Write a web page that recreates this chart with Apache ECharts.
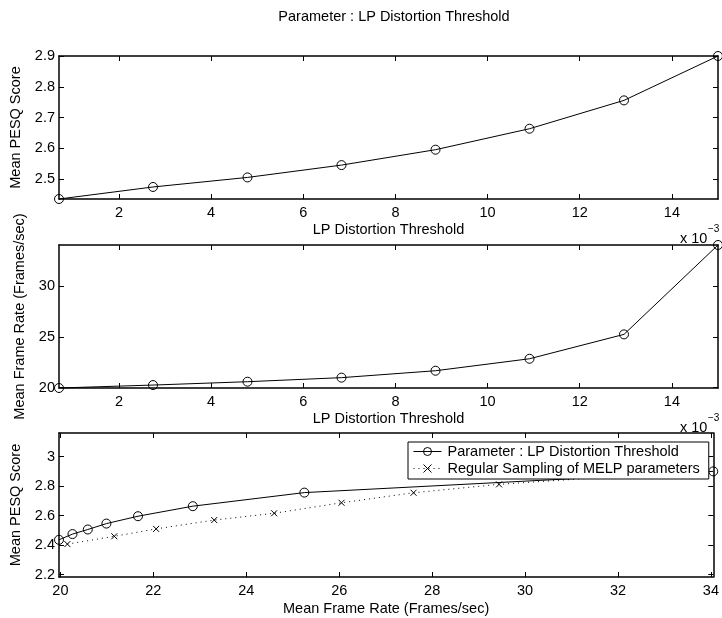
<!DOCTYPE html>
<html>
<head>
<meta charset="utf-8">
<script src="https://cdn.jsdelivr.net/npm/echarts@6/dist/echarts.min.js"></script>
<style>
  html, body { margin: 0; padding: 0; background: #fff; }
  #chart { width: 722px; height: 618px; }
</style>
</head>
<body>
<div id="chart"></div>
<script>
// LP distortion threshold (units of 1e-3)
const thresholds = [0.7, 2.74, 4.79, 6.83, 8.87, 10.91, 12.96, 15.0];
// Mean PESQ score for each threshold
const pesqScores = [2.436, 2.475, 2.506, 2.546, 2.596, 2.664, 2.756, 2.9];
// Mean frame rate (frames/sec) for each threshold
const frameRates = [19.97, 20.26, 20.59, 20.99, 21.67, 22.85, 25.25, 34.05];
// Regular sampling of MELP parameters: frame rate and PESQ
const regularRates = [20.15, 21.16, 22.06, 23.31, 24.6, 26.05, 27.6, 29.44, 32.4];
const regularScores = [2.407, 2.46, 2.51, 2.57, 2.616, 2.687, 2.755, 2.812, 2.875];

// tick positions
const thresholdTicks = [2, 4, 6, 8, 10, 12, 14];
const pesqTicksTop = [2.5, 2.6, 2.7, 2.8, 2.9];
const rateTicks = [20, 25, 30];
const rateTicksBottom = [20, 22, 24, 26, 28, 30, 32, 34];
const pesqTicksBottom = [2.2, 2.4, 2.6, 2.8, 3.0];

const FONT = '"Liberation Sans", Arial, Helvetica, sans-serif';
const FS = 14.5;
const FRAME_W = 1.5;

const pair = (xs, ys) => xs.map((x, i) => [x, ys[i]]);
const minOf = a => Math.min.apply(null, a);
const maxOf = a => Math.max.apply(null, a);

const grids = [
  { left: 59, right: 4, top: 56, height: 143 },
  { left: 59, right: 4, top: 245, height: 143 },
  { left: 59, right: 4, top: 433, height: 144 }
];

function xAxes(gi, min, max, ticks, name, gap) {
  const base = {
    type: 'value', gridIndex: gi, min: min, max: max,
    splitLine: { show: false },
    axisLine: { show: true, onZero: false, lineStyle: { color: '#000', width: FRAME_W } },
    axisTick: { show: true, inside: true, length: 5, customValues: ticks, lineStyle: { color: '#000' } }
  };
  return [
    Object.assign({}, base, {
      position: 'bottom',
      name: name, nameLocation: 'middle', nameGap: gap,
      nameTextStyle: { color: '#000', fontFamily: FONT, fontSize: FS },
      axisLabel: { show: true, customValues: ticks, margin: 6, color: '#000', fontFamily: FONT, fontSize: FS }
    }),
    Object.assign({}, base, { position: 'top', axisLabel: { show: false } })
  ];
}

function yAxes(gi, min, max, ticks, name) {
  const base = {
    type: 'value', gridIndex: gi, min: min, max: max,
    splitLine: { show: false },
    axisLine: { show: true, onZero: false, lineStyle: { color: '#000', width: FRAME_W } },
    axisTick: { show: true, inside: true, length: 5, customValues: ticks, lineStyle: { color: '#000' } }
  };
  return [
    Object.assign({}, base, {
      position: 'left',
      name: name, nameLocation: 'middle', nameGap: 28,
      nameTextStyle: { color: '#000', fontFamily: FONT, fontSize: FS },
      axisLabel: { show: true, customValues: ticks, margin: 4, color: '#000', fontFamily: FONT, fontSize: FS }
    }),
    Object.assign({}, base, { position: 'right', axisLabel: { show: false } })
  ];
}

const circle = {
  symbol: 'circle', symbolSize: 9,
  itemStyle: { color: 'rgba(0,0,0,0)', borderColor: '#000', borderWidth: 1 }
};
const cross = {
  symbol: 'path://M0,0L10,10M10,0L0,10', symbolSize: 6,
  itemStyle: { color: '#000', borderColor: '#000', borderWidth: 1 }
};

const xAxis = [].concat(
  xAxes(0, minOf(thresholds), maxOf(thresholds), thresholdTicks, 'LP Distortion Threshold', 23),
  xAxes(1, minOf(thresholds), maxOf(thresholds), thresholdTicks, 'LP Distortion Threshold', 23),
  xAxes(2, minOf(frameRates), maxOf(frameRates), rateTicksBottom, 'Mean Frame Rate (Frames/sec)', 24)
);
const yAxis = [].concat(
  yAxes(0, minOf(pesqScores), maxOf(pesqScores), pesqTicksTop, 'Mean PESQ Score'),
  yAxes(1, minOf(frameRates), maxOf(frameRates), rateTicks, 'Mean Frame Rate (Frames/sec)'),
  yAxes(2, 2.184, 3.16, pesqTicksBottom, 'Mean PESQ Score')
);

const lineBase = { type: 'line', clip: false, silent: true, animation: false };

const series = [
  Object.assign({}, lineBase, circle, {
    name: 'pesq-vs-threshold', xAxisIndex: 0, yAxisIndex: 0,
    data: pair(thresholds, pesqScores),
    lineStyle: { color: '#000', width: 1 }
  }),
  Object.assign({}, lineBase, circle, {
    name: 'rate-vs-threshold', xAxisIndex: 2, yAxisIndex: 2,
    data: pair(thresholds, frameRates),
    lineStyle: { color: '#000', width: 1 }
  }),
  Object.assign({}, lineBase, circle, {
    name: 'Parameter : LP Distortion Threshold', xAxisIndex: 4, yAxisIndex: 4,
    data: pair(frameRates, pesqScores),
    lineStyle: { color: '#000', width: 1 }
  }),
  Object.assign({}, lineBase, cross, {
    name: 'Regular Sampling of MELP parameters', xAxisIndex: 4, yAxisIndex: 4,
    data: pair(regularRates, regularScores),
    lineStyle: { color: '#000', width: 1, type: [1, 4] }
  })
];

const expText = (x, y) => ([
  { type: 'text', left: x, top: y, style: { text: 'x 10', fill: '#000', font: FS + 'px ' + FONT } },
  { type: 'text', left: x + 28, top: y - 7, style: { text: '\u22123', fill: '#000', font: '10px ' + FONT } }
]);

const option = {
  backgroundColor: '#fff',
  animation: false,
  title: {
    text: 'Parameter : LP Distortion Threshold',
    left: 389, top: 4, textAlign: 'center',
    textStyle: { color: '#000', fontFamily: FONT, fontSize: FS, fontWeight: 'normal' }
  },
  grid: grids,
  xAxis: xAxis,
  yAxis: yAxis,
  legend: {
    data: ['Parameter : LP Distortion Threshold', 'Regular Sampling of MELP parameters'],
    orient: 'vertical', left: 408, top: 442,
    padding: [2, 9, 3, 5], itemGap: 2, itemWidth: 28, itemHeight: 10,
    backgroundColor: '#fff', borderColor: '#000', borderWidth: 1, borderRadius: 0,
    lineStyle: { width: 1 },
    itemStyle: { borderWidth: 1 },
    textStyle: { color: '#000', fontFamily: FONT, fontSize: FS, lineHeight: 15, padding: [0, 0, 0, 1] },
    z: 10
  },
  graphic: expText(680, 231).concat(expText(680, 420)),
  series: series
};

const chart = echarts.init(document.getElementById('chart'), null, { renderer: 'canvas' });
chart.setOption(option);
</script>
</body>
</html>
